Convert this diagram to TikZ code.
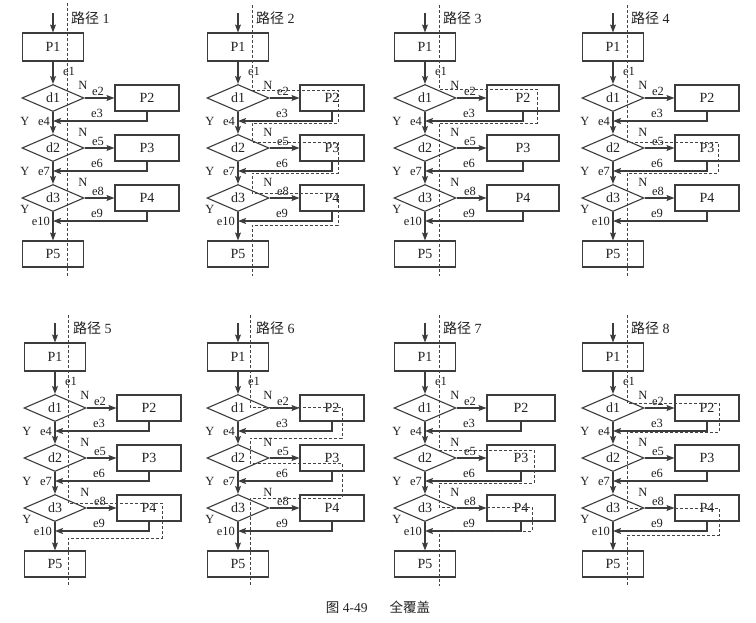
\documentclass[tikz,border=0pt]{standalone}
\usepackage{fontspec}
\setmainfont{Liberation Serif}
\newfontfamily\cjk{Noto Sans CJK SC}
\usetikzlibrary{shapes.geometric,arrows.meta}
\definecolor{linec}{HTML}{3C3C3C}
\definecolor{textc}{HTML}{222222}
\definecolor{dashc}{HTML}{444444}
\tikzset{
  ln/.style={draw=linec, line width=1.1pt},
  arr/.style={ln, -{Stealth[length=8pt,width=6pt,inset=1.5pt]}},
  pbox/.style={draw=linec, line width=1.1pt, minimum width=61pt, minimum height=28pt, inner sep=0pt, font=\fontsize{14}{14}\selectfont, text=textc},
  sbox/.style={pbox, minimum height=26pt},
  dbox/.style={diamond, draw=linec, line width=1.1pt, minimum width=62pt, minimum height=27pt, inner sep=0pt, font=\fontsize{14}{14}\selectfont, text=textc},
  lab/.style={font=\fontsize{12.5}{12.5}\selectfont, text=textc, inner sep=0pt},
  ttl/.style={font=\fontsize{14}{14}\selectfont, text=textc, inner sep=0pt, anchor=west},
  trail/.style={draw=dashc, line width=0.8pt, dash pattern=on 3pt off 2pt}
}
% #1 prefix, #2 x, #3 y, #4 number, #5 right box width, #6 dashed path
\newcommand\flowpanel[6]{%
\begin{scope}[shift={(#2,#3)}, name prefix=#1-]
  \coordinate (top) at (0,0);
  \node[pbox] (P1) at (0,34) {P1};
  \node[dbox] (d1) at (0,85) {d1};
  \node[dbox] (d2) at (0,135) {d2};
  \node[dbox] (d3) at (0,185) {d3};
  \node[pbox, minimum height=26pt] (P5) at (0,241) {P5};
  \node[sbox, minimum width=#5pt] (P2) at ({62+#5/2},85) {P2};
  \node[sbox, minimum width=#5pt] (P3) at ({62+#5/2},135) {P3};
  \node[sbox, minimum width=#5pt] (P4) at ({62+#5/2},185) {P4};
  \coordinate (r1) at (0,108);
  \coordinate (r2) at (0,158);
  \coordinate (r3) at (0,208);
  \draw[arr] (top) -- (P1);
  \draw[arr] (P1) -- (d1);
  \draw[arr] (d1) -- (d2);
  \draw[arr] (d2) -- (d3);
  \draw[arr] (d3) -- (P5);
  \draw[arr] (d1.east) -- (P2.west);
  \draw[arr] (d2.east) -- (P3.west);
  \draw[arr] (d3.east) -- (P4.west);
  \draw[arr] (P2.south) |- (r1);
  \draw[arr] (P3.south) |- (r2);
  \draw[arr] (P4.south) |- (r3);
  \node[ttl] (title) at (18,5) {{\cjk 路径} #4};
  \node[lab] (e1) at (16,58) {e1};
  \node[lab] (N1) at (30,72) {N};
  \node[lab] (e2) at (45,78) {e2};
  \node[lab] (e3) at (44,100) {e3};
  \node[lab] (Y1) at (-28,108) {Y};
  \node[lab, anchor=east] (e4) at (-3,108) {e4};
  \node[lab] (N2) at (30,119) {N};
  \node[lab] (e5) at (45,128) {e5};
  \node[lab] (e6) at (44,150) {e6};
  \node[lab] (Y2) at (-28,158) {Y};
  \node[lab, anchor=east] (e7) at (-3,158) {e7};
  \node[lab] (N3) at (30,169) {N};
  \node[lab] (e8) at (45,178) {e8};
  \node[lab] (e9) at (44,200) {e9};
  \node[lab] (Y3) at (-28,196) {Y};
  \node[lab, anchor=east] (e10) at (-3,208) {e10};
  \draw[trail] #6;
\end{scope}}

\begin{document}
\begin{tikzpicture}[x=1pt,y=-1pt]
  \fill[white] (0,0) rectangle (756,622);
  \useasboundingbox (0,0) rectangle (756,622);
  \flowpanel{a}{53}{13}{1}{64}{(14,-10) -- (14,263)}
  \flowpanel{b}{238}{13}{2}{64}{(14,-8) |- (100,77) |- (14,110) |- (100,129) |- (14,160) |- (100,180) |- (14,212) -- (14,263)}
  \flowpanel{c}{425}{13}{3}{72}{(14,-8) |- (112,76) |- (14,110) -- (14,263)}
  \flowpanel{d}{613}{13}{4}{64}{(14,-8) |- (105,129) |- (14,160) -- (14,263)}
  \flowpanel{e}{55}{323}{5}{64}{(13,-8) |- (107,180) |- (13,215) -- (13,263)}
  \flowpanel{f}{238}{323}{6}{64}{(12,-8) |- (104,84) |- (12,115) |- (104,140) |- (12,175) -- (12,263)}
  \flowpanel{g}{425}{323}{7}{68}{(14,-8) |- (109,127) |- (14,160) |- (107,184) |- (14,208) -- (14,263)}
  \flowpanel{h}{613}{323}{8}{64}{(14,-8) |- (106,80) |- (14,109) |- (106,185) |- (14,212) -- (14,263)}
  \node[font=\fontsize{13.5}{14}\selectfont, text=textc, inner sep=0pt] (cap) at (378,607) {{\cjk 图} 4-49\hspace{22pt}{\cjk 全覆盖}};
\end{tikzpicture}
\end{document}
